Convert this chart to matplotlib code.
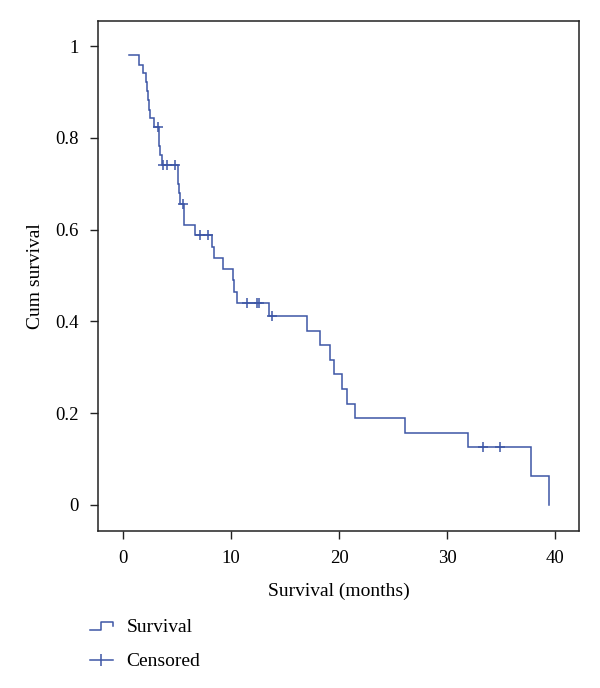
import numpy as np
import matplotlib
matplotlib.use("Agg")
import matplotlib.pyplot as plt
from matplotlib.lines import Line2D
from matplotlib.legend_handler import HandlerBase

# Kaplan-Meier steps: event times (months) and survival after each event
event_times = [0.58, 1.51, 1.88, 2.10, 2.19, 2.29, 2.44, 2.50, 2.90, 3.33, 3.43, 3.58,
               5.09, 5.21, 5.31, 5.65, 6.67, 8.21, 8.43, 9.29, 10.21, 10.28, 10.56,
               13.55, 17.01, 18.27, 19.14, 19.54, 20.28, 20.77, 21.45, 26.14, 31.97,
               37.78, 39.42]
surv_after = [0.980, 0.960, 0.941, 0.922, 0.902, 0.882, 0.862, 0.843, 0.823, 0.782, 0.762, 0.742,
              0.700, 0.679, 0.657, 0.611, 0.589, 0.562, 0.539, 0.514, 0.490, 0.465, 0.440,
              0.411, 0.380, 0.348, 0.316, 0.285, 0.253, 0.221, 0.190, 0.158, 0.127,
              0.064, 0.000]

# Censored observations
censor_times = [3.27, 3.68, 4.05, 4.81, 5.53, 7.16, 7.84, 11.48, 12.41, 12.56, 13.82, 33.31, 34.88]
censor_surv = [0.823, 0.742, 0.742, 0.742, 0.657, 0.589, 0.589, 0.440, 0.440, 0.440, 0.411, 0.127, 0.127]

x_ticks = [0, 10, 20, 30, 40]
y_ticks = [0, 0.2, 0.4, 0.6, 0.8, 1]
y_ticklabels = ["0", "0.2", "0.4", "0.6", "0.8", "1"]

BLUE = "#3d56a6"
plt.rcParams['font.family'] = ['Liberation Serif', 'DejaVu Serif']

fig = plt.figure(figsize=(6, 6.88), dpi=100)
ax = fig.add_axes([0.1638, 0.2282, 0.8012, 0.7417])

# Build step path: starts at first event time at level of first step
xs = [event_times[0]]
ys = [surv_after[0]]
for i in range(1, len(event_times)):
    xs += [event_times[i], event_times[i]]
    ys += [surv_after[i - 1], surv_after[i]]
ax.plot(xs, ys, color=BLUE, lw=1.1, solid_joinstyle='miter')
ax.plot(censor_times, censor_surv, linestyle='none', marker='+', ms=7, mew=1.1, color=BLUE)

ax.set_xlim(-2.29, 42.22)
ax.set_ylim(-0.0567, 1.0556)
ax.set_xticks(x_ticks)
ax.set_yticks(y_ticks)
ax.set_yticklabels(y_ticklabels)
ax.tick_params(direction='out', length=6, width=1.0, color='#222222', labelsize=13.5, pad=8)
for s in ax.spines.values():
    s.set_linewidth(1.1)
    s.set_color('#222222')
ax.set_xlabel("Survival (months)", fontsize=14, labelpad=11)
ax.set_ylabel("Cum survival", fontsize=14, labelpad=8)


class StepHandler(HandlerBase):
    def create_artists(self, legend, orig_handle, xdescent, ydescent, width, height, fontsize, trans):
        x = np.array([0, 0.46, 0.46, 1.0, 1.0]) * width - xdescent
        y = np.array([0.15, 0.15, 0.72, 0.72, 0.45]) * height - ydescent
        ln = Line2D(x, y, color=BLUE, lw=1.1)
        ln.set_transform(trans)
        return [ln]


h_surv = Line2D([0], [0], color=BLUE, lw=1.1)
h_cens = Line2D([0], [0], color=BLUE, lw=1.1, marker='|', ms=9, mew=1.1)
fig.legend([h_surv, h_cens], ["Survival", "Censored"],
           handler_map={h_surv: StepHandler()},
           loc='upper left', bbox_to_anchor=(0.15, 0.101), frameon=False,
           fontsize=14, handlelength=1.18, handletextpad=0.69, labelspacing=0.86,
           borderaxespad=0, borderpad=0)

fig.savefig("out.png", dpi=100, facecolor='white')
